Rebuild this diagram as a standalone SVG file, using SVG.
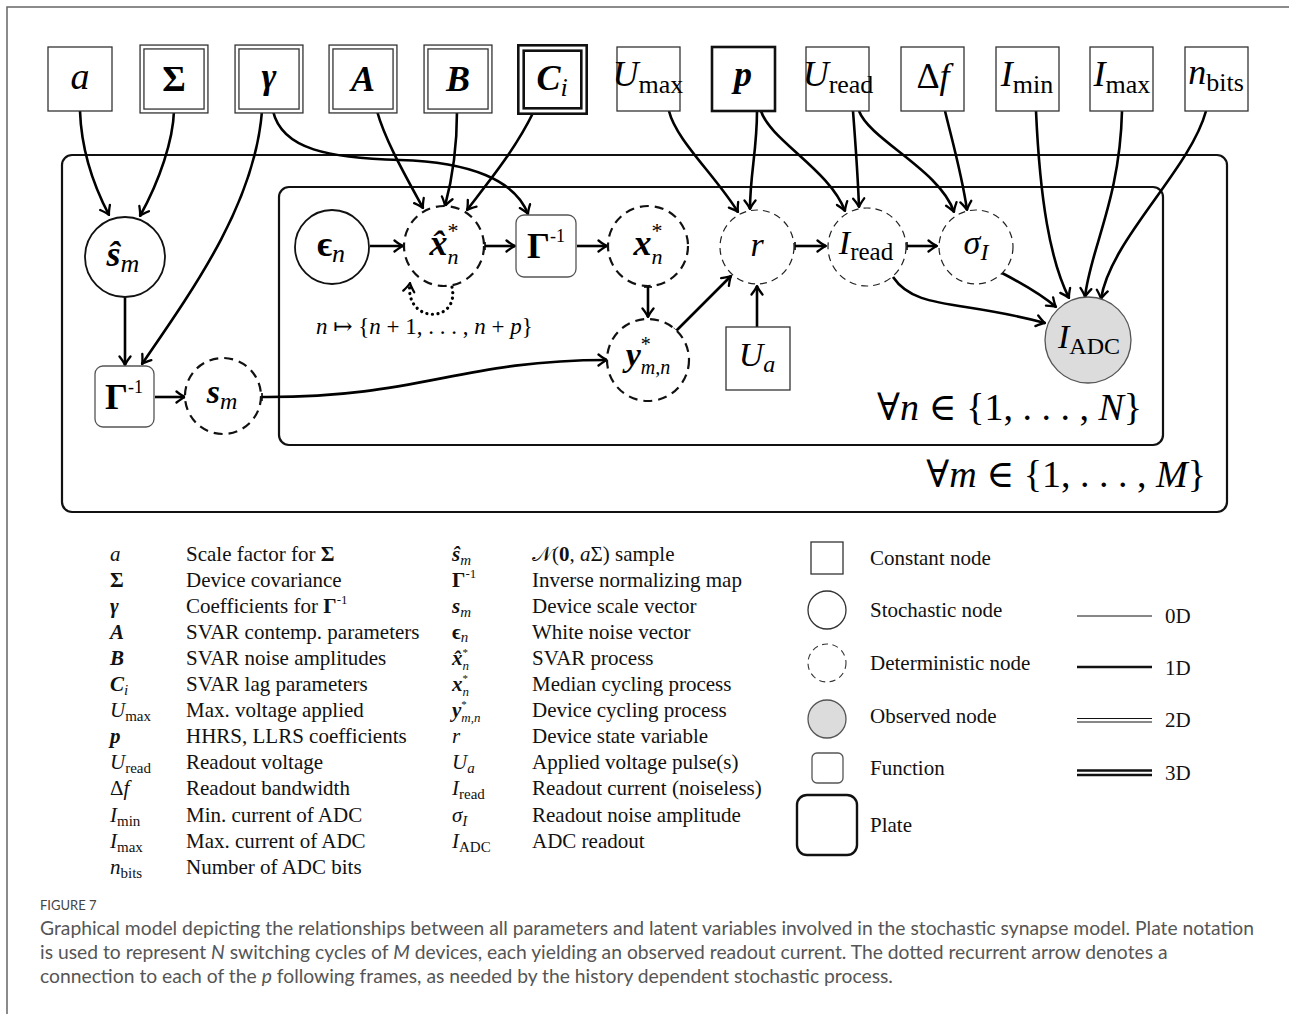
<svg xmlns="http://www.w3.org/2000/svg" width="1289" height="1014" viewBox="0 0 1289 1014">
<defs>
<marker id="ah" viewBox="-10 -7 11 14" refX="0" refY="0" markerWidth="11" markerHeight="14" markerUnits="userSpaceOnUse" orient="auto">
<path d="M-8.5,-5.5 Q-3,-1.2 0,0 Q-3,1.2 -8.5,5.5" fill="none" stroke="#000" stroke-width="2.3" stroke-linecap="round" stroke-linejoin="round"/>
</marker>
<marker id="tk" viewBox="-2 -5 4 10" refX="0" refY="0" markerWidth="4" markerHeight="10" markerUnits="userSpaceOnUse" orient="auto">
<path d="M0,-4 L0,4" stroke="#000" stroke-width="1.6"/>
</marker>
</defs>
<style>
.m{font-family:"Liberation Serif","DejaVu Serif",serif;fill:#000}
.i{font-style:italic}
.b{font-weight:bold}
.lg{font-family:"Liberation Serif","DejaVu Serif",serif;font-size:21px;fill:#111}
.e{fill:none;stroke:#000;stroke-width:2.6;marker-end:url(#ah)}
.t{marker-start:url(#tk)}
.dot{stroke-dasharray:0.1 5.5;stroke-linecap:round;stroke-width:3.2}
.box{fill:#fff;stroke:#333;stroke-width:1.3}
.dbl{fill:#fff;stroke:#333;stroke-width:5.2}
.dblw{fill:none;stroke:#fff;stroke-width:2.6}
.tri{fill:#fff;stroke:#111;stroke-width:8}
.triw{fill:none;stroke:#fff;stroke-width:2.8}
.thk{fill:#fff;stroke:#111;stroke-width:2.6}
.fn{fill:#fff;stroke:#555;stroke-width:1.3}
.sto{fill:#fff;stroke:#111;stroke-width:1.8}
.dd{fill:#fff;stroke:#111;stroke-width:2.2;stroke-dasharray:9 6}
.dt{fill:#fff;stroke:#222;stroke-width:1.2;stroke-dasharray:7 5}
.obs{fill:#dcdcdc;stroke:#555;stroke-width:1.3}
.plate{fill:none;stroke:#111;stroke-width:2.2}
.cap{font-family:Lato,"Open Sans",sans-serif;font-size:19.3px;fill:#555}
</style>
<rect width="1289" height="1014" fill="#fff"/>
<path d="M7,1014 V7 H1289" fill="none" stroke="#666" stroke-width="1.5"/>

<!-- plates -->
<g id="plate-m"><rect class="plate" x="62" y="155" width="1165" height="357" rx="10"/>
<text class="m" x="1206" y="487" text-anchor="end" font-size="38">∀<tspan class="i">m</tspan> ∈ {1, . . . , <tspan class="i">M</tspan>}</text></g>
<g id="plate-n"><rect class="plate" x="279" y="187" width="884" height="258" rx="10"/>
<text class="m" x="1142" y="420" text-anchor="end" font-size="38">∀<tspan class="i">n</tspan> ∈ {1, . . . , <tspan class="i">N</tspan>}</text></g>

<!-- connectors -->
<g id="connectors">
<path class="e" d="M80,111 C81,140 88,175 109,215"/>
<path class="e" d="M174,111 C173,140 160,180 140,216"/>
<path class="e" d="M262,111 C255,200 200,280 142,364"/>
<path class="e" d="M273,111 C282,150 330,158 400,160 C470,162 515,180 528,214"/>
<path class="e" d="M377,111 C385,140 405,175 423,208"/>
<path class="e" d="M457,111 C457,150 452,180 445,206"/>
<path class="e" d="M534,111 C515,150 490,180 467,210"/>
<path class="e" d="M370,246 L403,246"/>
<path class="e t" d="M485,246 L515,246"/>
<path class="e" d="M577,246 L607,246"/>
<path class="e t" d="M648,287 L648,317"/>
<path class="e t" d="M676,331 L731,276"/>
<path class="e" d="M757,327 L757,286"/>
<path class="e t" d="M795,246 L826,246"/>
<path class="e t" d="M907,246 L937,246"/>
<path class="e" d="M893,277 C915,310 960,300 1045,323"/>
<path class="e" d="M1002,273 C1025,285 1042,295 1056,307"/>
<path class="e" d="M669,111 C676,140 715,175 738,212"/>
<path class="e" d="M757,111 C757,150 750,175 750,209"/>
<path class="e" d="M761,111 C770,140 830,170 845,211"/>
<path class="e" d="M853,111 C856,150 858,180 859,207"/>
<path class="e" d="M859,111 C870,140 940,170 954,212"/>
<path class="e" d="M945,111 C952,140 962,175 967,210"/>
<path class="e" d="M1036,111 C1040,200 1050,260 1069,298"/>
<path class="e" d="M1122,111 C1120,200 1090,250 1085,297"/>
<path class="e" d="M1206,111 C1190,170 1110,240 1101,299"/>
<path class="e" d="M125,297 L125,365"/>
<path class="e" d="M155,397 L185,397"/>
<path class="e t" d="M262,397 C420,398 460,360 607,360"/>
<path class="e dot" d="M452,287 C460,324 404,324 410,283"/>
</g>

<!-- top constant nodes -->
<g id="n-a"><rect class="box" x="48" y="47" width="64" height="64"/><text class="m i" x="80" y="89" text-anchor="middle" font-size="38">a</text></g>
<g id="n-Sigma"><rect class="dbl" x="142" y="47" width="64" height="64"/><rect class="dblw" x="142" y="47" width="64" height="64"/><text class="m b" x="174" y="91" text-anchor="middle" font-size="36">Σ</text></g>
<g id="n-gamma"><rect class="dbl" x="237" y="47" width="64" height="64"/><rect class="dblw" x="237" y="47" width="64" height="64"/><text class="m b i" x="269" y="88" text-anchor="middle" font-size="36">γ</text></g>
<g id="n-A"><rect class="dbl" x="331" y="47" width="64" height="64"/><rect class="dblw" x="331" y="47" width="64" height="64"/><text class="m b i" x="363" y="91" text-anchor="middle" font-size="36">A</text></g>
<g id="n-B"><rect class="dbl" x="426" y="47" width="64" height="64"/><rect class="dblw" x="426" y="47" width="64" height="64"/><text class="m b i" x="458" y="91" text-anchor="middle" font-size="36">B</text></g>
<g id="n-C"><rect class="tri" x="521" y="48" width="63" height="63"/><rect class="triw" x="521" y="48" width="63" height="63"/><text class="m" x="552" y="90" text-anchor="middle" font-size="36"><tspan class="b i">C</tspan><tspan class="i" font-size="26" dy="6">i</tspan></text></g>
<g id="n-Umax"><rect class="box" x="617" y="47" width="63" height="64"/><text class="m" x="648" y="86" text-anchor="middle" font-size="36"><tspan class="i">U</tspan><tspan font-size="26" dy="7">max</tspan></text></g>
<g id="n-p"><rect class="thk" x="712" y="47" width="63" height="64"/><text class="m b i" x="743" y="86" text-anchor="middle" font-size="36">p</text></g>
<g id="n-Uread"><rect class="box" x="806" y="47" width="63" height="64"/><text class="m" x="838" y="86" text-anchor="middle" font-size="36"><tspan class="i">U</tspan><tspan font-size="26" dy="7">read</tspan></text></g>
<g id="n-df"><rect class="box" x="901" y="47" width="63" height="64"/><text class="m" x="933" y="88" text-anchor="middle" font-size="36">Δ<tspan class="i">f</tspan></text></g>
<g id="n-Imin"><rect class="box" x="996" y="47" width="63" height="64"/><text class="m" x="1027" y="86" text-anchor="middle" font-size="36"><tspan class="i">I</tspan><tspan font-size="26" dy="7">min</tspan></text></g>
<g id="n-Imax"><rect class="box" x="1090" y="47" width="63" height="64"/><text class="m" x="1122" y="86" text-anchor="middle" font-size="36"><tspan class="i">I</tspan><tspan font-size="26" dy="7">max</tspan></text></g>
<g id="n-nbits"><rect class="box" x="1185" y="47" width="63" height="64"/><text class="m" x="1216" y="84" text-anchor="middle" font-size="36"><tspan class="i">n</tspan><tspan font-size="26" dy="7">bits</tspan></text></g>

<!-- latent nodes -->
<g id="n-shat"><circle class="sto" cx="125" cy="257" r="40"/><text class="m" x="123" y="266" text-anchor="middle" font-size="36"><tspan class="b i">ŝ</tspan><tspan class="i" font-size="26" dy="6">m</tspan></text></g>
<g id="n-eps"><circle class="sto" cx="332" cy="247" r="37"/><text class="m" x="331" y="256" text-anchor="middle" font-size="36"><tspan class="b">ϵ</tspan><tspan class="i" font-size="26" dy="6">n</tspan></text></g>
<g id="n-xhat"><circle class="dd" cx="444" cy="246" r="40"/><text class="m" x="444" y="255" text-anchor="middle" font-size="36"><tspan class="b i">x&#x302;</tspan><tspan font-size="22" dy="-17">*</tspan><tspan class="i" font-size="22" dx="-11" dy="26">n</tspan></text></g>
<g id="n-Ginv"><rect class="fn" x="516" y="215" width="60" height="62" rx="8"/><text class="m" x="546" y="258" text-anchor="middle" font-size="36"><tspan class="b">Γ</tspan><tspan font-size="18" dy="-16">-1</tspan></text></g>
<g id="n-xstar"><circle class="dd" cx="648" cy="246" r="40"/><text class="m" x="648" y="255" text-anchor="middle" font-size="36"><tspan class="b i">x</tspan><tspan font-size="22" dy="-17">*</tspan><tspan class="i" font-size="22" dx="-11" dy="26">n</tspan></text></g>
<g id="n-r"><circle class="dt" cx="757" cy="247" r="37"/><text class="m i" x="757" y="256" text-anchor="middle" font-size="34">r</text></g>
<g id="n-Iread"><circle class="dt" cx="867" cy="247" r="39"/><text class="m" x="866" y="254" text-anchor="middle" font-size="34"><tspan class="i">I</tspan><tspan font-size="25" dy="6">read</tspan></text></g>
<g id="n-sigma"><circle class="dt" cx="976" cy="247" r="37"/><text class="m" x="976" y="254" text-anchor="middle" font-size="34"><tspan class="i">σ</tspan><tspan class="i" font-size="24" dy="6">I</tspan></text></g>
<g id="n-IADC"><circle class="obs" cx="1088" cy="340" r="43"/><text class="m" x="1089" y="348" text-anchor="middle" font-size="34"><tspan class="i">I</tspan><tspan font-size="24" dy="6">ADC</tspan></text></g>
<g id="n-ystar"><circle class="dd" cx="648" cy="360" r="41"/><text class="m" x="648" y="366" text-anchor="middle" font-size="34"><tspan class="b i">y</tspan><tspan font-size="20" dy="-15">*</tspan><tspan class="i" font-size="20" dx="-10" dy="23">m,n</tspan></text></g>
<g id="n-Ua"><rect class="box" x="726" y="327" width="64" height="63"/><text class="m" x="757" y="366" text-anchor="middle" font-size="34"><tspan class="i">U</tspan><tspan class="i" font-size="24" dy="6">a</tspan></text></g>
<g id="n-Ginv2"><rect class="fn" x="95" y="366" width="59" height="61" rx="8"/><text class="m" x="124" y="409" text-anchor="middle" font-size="36"><tspan class="b">Γ</tspan><tspan font-size="18" dy="-16">-1</tspan></text></g>
<g id="n-s"><circle class="dd" cx="223" cy="396" r="38"/><text class="m" x="222" y="403" text-anchor="middle" font-size="34"><tspan class="b i">s</tspan><tspan class="i" font-size="24" dy="6">m</tspan></text></g>
<g id="loop-label"><text class="m" x="316" y="334" font-size="23"><tspan class="i">n</tspan> ↦ {<tspan class="i">n</tspan> + 1, . . . , <tspan class="i">n</tspan> + <tspan class="i">p</tspan>}</text></g>

<!-- legend: symbols -->
<g id="legend-symbols" class="lg">
<text x="110" y="561"><tspan class="i">a</tspan></text>
<text x="110" y="587" class="b">Σ</text>
<text x="110" y="613" class="b i">γ</text>
<text x="110" y="639" class="b i">A</text>
<text x="110" y="665" class="b i">B</text>
<text x="110" y="691"><tspan class="b i">C</tspan><tspan class="i" font-size="15" dy="4">i</tspan></text>
<text x="110" y="717"><tspan class="i">U</tspan><tspan font-size="15" dy="4">max</tspan></text>
<text x="110" y="743" class="b i">p</text>
<text x="110" y="769"><tspan class="i">U</tspan><tspan font-size="15" dy="4">read</tspan></text>
<text x="110" y="795">Δ<tspan class="i">f</tspan></text>
<text x="110" y="822"><tspan class="i">I</tspan><tspan font-size="15" dy="4">min</tspan></text>
<text x="110" y="848"><tspan class="i">I</tspan><tspan font-size="15" dy="4">max</tspan></text>
<text x="110" y="874"><tspan class="i">n</tspan><tspan font-size="15" dy="4">bits</tspan></text>

<text x="186" y="561">Scale factor for <tspan class="b">Σ</tspan></text>
<text x="186" y="587">Device covariance</text>
<text x="186" y="613">Coefficients for <tspan class="b">Γ</tspan><tspan font-size="13" dy="-9">-1</tspan></text>
<text x="186" y="639">SVAR contemp. parameters</text>
<text x="186" y="665">SVAR noise amplitudes</text>
<text x="186" y="691">SVAR lag parameters</text>
<text x="186" y="717">Max. voltage applied</text>
<text x="186" y="743">HHRS, LLRS coefficients</text>
<text x="186" y="769">Readout voltage</text>
<text x="186" y="795">Readout bandwidth</text>
<text x="186" y="822">Min. current of ADC</text>
<text x="186" y="848">Max. current of ADC</text>
<text x="186" y="874">Number of ADC bits</text>

<text x="452" y="561"><tspan class="b i">ŝ</tspan><tspan class="i" font-size="15" dy="4">m</tspan></text>
<text x="452" y="587"><tspan class="b">Γ</tspan><tspan font-size="13" dy="-9">-1</tspan></text>
<text x="452" y="613"><tspan class="b i">s</tspan><tspan class="i" font-size="15" dy="4">m</tspan></text>
<text x="452" y="639"><tspan class="b">ϵ</tspan><tspan class="i" font-size="15" dy="3">n</tspan></text>
<text x="452" y="665"><tspan class="b i">x&#x302;</tspan><tspan font-size="11" dy="-9">*</tspan><tspan class="i" font-size="13" dx="-5.5" dy="14">n</tspan></text>
<text x="452" y="691"><tspan class="b i">x</tspan><tspan font-size="11" dy="-9">*</tspan><tspan class="i" font-size="13" dx="-5.5" dy="14">n</tspan></text>
<text x="452" y="717"><tspan class="b i">y</tspan><tspan font-size="11" dy="-9">*</tspan><tspan class="i" font-size="13" dx="-5.5" dy="14">m,n</tspan></text>
<text x="452" y="743" class="i">r</text>
<text x="452" y="769"><tspan class="i">U</tspan><tspan class="i" font-size="15" dy="4">a</tspan></text>
<text x="452" y="795"><tspan class="i">I</tspan><tspan font-size="15" dy="4">read</tspan></text>
<text x="452" y="822"><tspan class="i">σ</tspan><tspan class="i" font-size="15" dy="4">I</tspan></text>
<text x="452" y="848"><tspan class="i">I</tspan><tspan font-size="15" dy="4">ADC</tspan></text>

<text x="532" y="561">𝒩(<tspan class="b">0</tspan>, <tspan class="i">a</tspan>Σ) sample</text>
<text x="532" y="587">Inverse normalizing map</text>
<text x="532" y="613">Device scale vector</text>
<text x="532" y="639">White noise vector</text>
<text x="532" y="665">SVAR process</text>
<text x="532" y="691">Median cycling process</text>
<text x="532" y="717">Device cycling process</text>
<text x="532" y="743">Device state variable</text>
<text x="532" y="769">Applied voltage pulse(s)</text>
<text x="532" y="795">Readout current (noiseless)</text>
<text x="532" y="822">Readout noise amplitude</text>
<text x="532" y="848">ADC readout</text>
</g>

<!-- legend: node types -->
<g id="legend-types" class="lg">
<rect class="box" x="811" y="542" width="32" height="32"/>
<text x="870" y="565">Constant node</text>
<circle cx="827" cy="610" r="19" fill="#fff" stroke="#333" stroke-width="1.3"/>
<text x="870" y="617">Stochastic node</text>
<circle cx="827" cy="663" r="19" fill="#fff" stroke="#333" stroke-width="1.1" stroke-dasharray="6 4.5"/>
<text x="870" y="670">Deterministic node</text>
<circle class="obs" cx="827" cy="719" r="19"/>
<text x="870" y="723">Observed node</text>
<rect class="fn" x="812" y="753" width="31" height="30" rx="5"/>
<text x="870" y="775">Function</text>
<rect x="797" y="795" width="60" height="60" rx="10" fill="none" stroke="#111" stroke-width="2.4"/>
<text x="870" y="832">Plate</text>
</g>
<g id="legend-lines" class="lg">
<path d="M1077,616 H1152" stroke="#111" stroke-width="1"/>
<text x="1165" y="623">0D</text>
<path d="M1077,667 H1152" stroke="#111" stroke-width="2.6"/>
<text x="1165" y="675">1D</text>
<path d="M1077,718.5 H1152 M1077,722 H1152" stroke="#111" stroke-width="1"/>
<text x="1165" y="727">2D</text>
<path d="M1077,770.5 H1152 M1077,775 H1152" stroke="#111" stroke-width="2.4"/>
<text x="1165" y="780">3D</text>
</g>

<!-- caption -->
<g id="caption">
<text x="40" y="910" font-family="Lato,'Open Sans',sans-serif" font-size="13" fill="#444">FIGURE 7</text>
<text class="cap" x="40" y="935">Graphical model depicting the relationships between all parameters and latent variables involved in the stochastic synapse model. Plate notation</text>
<text class="cap" x="40" y="959">is used to represent <tspan font-style="italic">N</tspan> switching cycles of <tspan font-style="italic">M</tspan> devices, each yielding an observed readout current. The dotted recurrent arrow denotes a</text>
<text class="cap" x="40" y="983">connection to each of the <tspan font-style="italic">p</tspan> following frames, as needed by the history dependent stochastic process.</text>
</g>
</svg>
